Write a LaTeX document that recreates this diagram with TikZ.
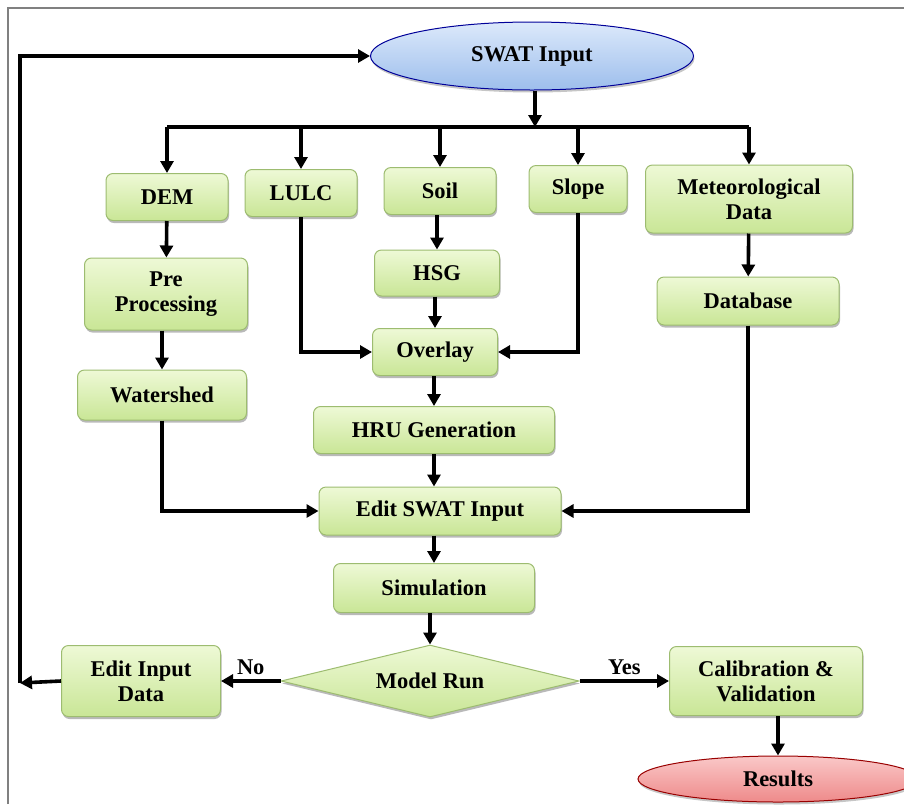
\documentclass[tikz,border=0pt]{standalone}
\usepackage{fontspec}
\setmainfont{Liberation Serif}
\usepackage{tikz}
\usetikzlibrary{arrows.meta,shapes.geometric,shadows}
\definecolor{boxtop}{HTML}{EEF9D6}
\definecolor{boxbot}{HTML}{C9E696}
\definecolor{boxline}{HTML}{9DBC70}
\definecolor{bluetop}{HTML}{DCE9FB}
\definecolor{bluebot}{HTML}{9DBEEC}
\definecolor{redtop}{HTML}{FAC8C8}
\definecolor{redbot}{HTML}{EE8A8A}

\begin{document}
\begin{tikzpicture}[
      x = 1pt, y = -1pt,
      every node/.style = {font = \bfseries\fontsize{22.5}{25}\selectfont, align = center},
      stepbox/.style = {rectangle, rounded corners = 7pt, draw = boxline, line width = 1pt,
                        top color = boxtop, bottom color = boxbot,
                        drop shadow = {shadow xshift = 1pt, shadow yshift = -2.5pt, opacity = .55}},
      terminal/.style = {ellipse, draw = #1!60!black, line width = 1pt,
                         drop shadow = {shadow xshift = 1pt, shadow yshift = -2.5pt, opacity = .45}},
      decision/.style = {diamond, aspect = 4, inner sep = 0pt, draw = boxline, line width = 1pt,
                         top color = boxtop, bottom color = boxbot,
                         drop shadow = {shadow xshift = 1pt, shadow yshift = -2.5pt, opacity = .55}},
      wire/.style = {line width = 3.6pt},
      arr/.style = {wire, -{Triangle[length = 12pt, width = 13pt]}},
      lbl/.style = {draw = none, fill = none, above, inner sep = 4pt}
      ]
      \useasboundingbox (0,0) rectangle (904,804);
      \draw[gray, line width = 1.5pt] (8,804) -- (8,8) -- (904,8);

      \node[terminal = blue, top color = bluetop, bottom color = bluebot,
            minimum width = 323, minimum height = 68] (swat) at (532,56) {SWAT Input};

      \node[stepbox, minimum width = 122, minimum height = 47] (dem)   at (167,197) {DEM};
      \node[stepbox, minimum width = 112, minimum height = 47] (lulc)  at (301,193) {LULC};
      \node[stepbox, minimum width = 112, minimum height = 47] (soil)  at (440,191) {Soil};
      \node[stepbox, minimum width = 98,  minimum height = 47] (slope) at (578,189) {Slope};
      \node[stepbox, minimum width = 207, minimum height = 68] (met)   at (749,199) {Meteorological\\Data};

      \node[stepbox, minimum width = 163, minimum height = 72] (pre)   at (166,294) {Pre\\Processing};
      \node[stepbox, minimum width = 125, minimum height = 46] (hsg)   at (437,273) {HSG};
      \node[stepbox, minimum width = 182, minimum height = 48] (db)    at (748,301) {Database};
      \node[stepbox, minimum width = 125, minimum height = 47] (over)  at (435,352) {Overlay};
      \node[stepbox, minimum width = 169, minimum height = 50] (water) at (162,395) {Watershed};
      \node[stepbox, minimum width = 241, minimum height = 47] (hru)   at (434,430) {HRU Generation};
      \node[stepbox, minimum width = 242, minimum height = 48] (edit)  at (440,511) {Edit SWAT Input};
      \node[stepbox, minimum width = 201, minimum height = 49] (sim)   at (434,588) {Simulation};

      \node[decision, minimum width = 298, minimum height = 72] (model) at (430,681) {Model Run};
      \node[stepbox, minimum width = 159, minimum height = 71] (editin) at (141,681) {Edit Input\\Data};
      \node[stepbox, minimum width = 193, minimum height = 69] (calib)  at (766,681) {Calibration \&\\Validation};

      \node[terminal = red, top color = redtop, bottom color = redbot,
            minimum width = 280, minimum height = 46] (res) at (778,779) {Results};

      \coordinate (bus) at (535,127);
      \coordinate (back) at (20,683);

      \draw[arr] (swat.south -| bus) -- (bus);
      \draw[wire] (dem.north |- bus) -- (met.north |- bus);
      \foreach \n in {dem, lulc, soil, slope, met}
            \draw[arr] (\n.north |- bus) -- (\n.north);

      \draw[arr] (dem) -- (pre);
      \draw[arr] (pre.south -| water) -- (water);
      \draw[arr] (soil.south -| hsg) -- (hsg);
      \draw[arr] (hsg.south -| over) -- (over);
      \draw[arr] (met) -- (db);
      \draw[arr] (lulc.south) |- (over.west);
      \draw[arr] (slope.south) |- (over.east);
      \draw[arr] (over.south -| hru) -- (hru);
      \draw[arr] (hru.south) -- (hru.south |- edit.north);
      \draw[arr] (water.south) |- (edit.west);
      \draw[arr] (db.south) |- (edit.east);
      \draw[arr] (edit.south -| sim) -- (sim);
      \draw[arr] (sim.south -| model) -- (model);

      \draw[arr] (model.west) -- node[lbl] {No} (editin.east);
      \draw[arr] (model.east) -- node[lbl] {Yes} (calib.west);
      \draw[arr] (editin.west) -- (back);
      \draw[arr] (back) |- (swat.west);
      \draw[arr] (res.north |- calib.south) -- (res.north);
    \end{tikzpicture}
\end{document}
